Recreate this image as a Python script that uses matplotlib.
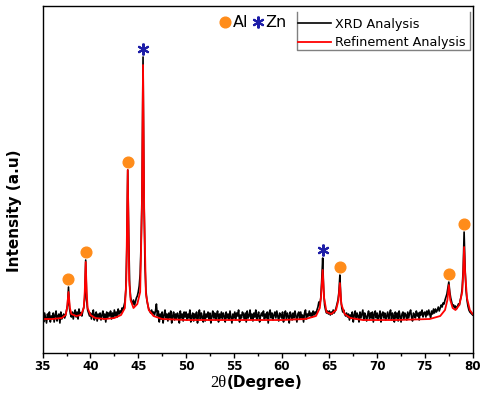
import numpy as np
import matplotlib
matplotlib.use("Agg")
import matplotlib.pyplot as plt
from matplotlib.lines import Line2D

# measured XRD scan, 35-80 deg in 0.1 deg steps (one row per degree)
two_theta = np.round(np.linspace(35, 80, 451), 1)
xrd_intensity = np.array([
    44, 38, 47, 42, 37, 46, 41, 48, 38, 44,       # 35
    42, 47, 38, 45, 49, 39, 44, 46, 37, 48,       # 36
    41, 44, 46, 42, 45, 50, 55, 73, 52, 46,       # 37
    43, 48, 41, 47, 50, 43, 48, 41, 51, 45,       # 38
    47, 44, 49, 53, 62, 100, 60, 50, 47, 44,      # 39
    47, 41, 46, 50, 40, 45, 48, 39, 46, 42,       # 40
    47, 40, 45, 49, 41, 46, 38, 48, 42, 47,       # 41
    44, 49, 41, 47, 42, 50, 44, 48, 43, 51,       # 42
    46, 49, 47, 52, 50, 54, 58, 70, 110, 190,     # 43
    125, 75, 63, 58, 56, 60, 55, 58, 62, 64,      # 44
    68, 74, 86, 118, 170, 303, 165, 95, 70, 60,   # 45
    55, 51, 49, 47, 50, 46, 48, 45, 49, 56,       # 46
    44, 49, 38, 46, 41, 48, 37, 45, 50, 42,       # 47
    46, 39, 47, 42, 49, 37, 44, 48, 40, 46,       # 48
    41, 47, 44, 37, 49, 42, 46, 39, 48, 43,       # 49
    48, 40, 46, 42, 50, 38, 44, 47, 39, 46,       # 50
    42, 48, 37, 45, 50, 41, 47, 43, 38, 49,       # 51
    39, 46, 43, 48, 40, 47, 37, 44, 49, 42,       # 52
    47, 40, 45, 49, 38, 46, 42, 48, 41, 47,       # 53
    44, 38, 48, 42, 46, 40, 49, 43, 37, 46,       # 54
    42, 48, 40, 47, 44, 50, 38, 45, 42, 48,       # 55
    46, 40, 47, 38, 49, 42, 44, 50, 41, 46,       # 56
    39, 47, 43, 50, 40, 45, 48, 38, 44, 47,       # 57
    44, 49, 41, 46, 42, 48, 37, 47, 50, 42,       # 58
    47, 40, 45, 48, 42, 49, 44, 39, 47, 45,       # 59
    42, 48, 38, 45, 49, 41, 47, 44, 37, 48,       # 60
    45, 40, 47, 42, 49, 44, 38, 46, 48, 41,       # 61
    48, 42, 45, 38, 47, 50, 41, 46, 44, 49,       # 62
    44, 47, 43, 49, 45, 48, 46, 50, 53, 58,       # 63
    55, 62, 80, 102, 70, 55, 50, 47, 49, 46,      # 64
    49, 45, 48, 46, 50, 47, 49, 52, 56, 60,       # 65
    68, 85, 62, 52, 48, 50, 46, 44, 47, 43,       # 66
    46, 40, 45, 43, 48, 38, 45, 49, 41, 47,       # 67
    44, 38, 48, 42, 46, 50, 40, 47, 44, 39,       # 68
    45, 49, 41, 47, 42, 48, 38, 46, 49, 42,       # 69
    47, 40, 44, 49, 38, 46, 48, 42, 47, 40,       # 70
    44, 48, 41, 46, 50, 40, 47, 44, 38, 48,       # 71
    42, 47, 39, 49, 44, 38, 46, 48, 41, 47,       # 72
    45, 40, 48, 42, 47, 50, 43, 39, 47, 45,       # 73
    42, 49, 44, 47, 40, 48, 45, 50, 43, 47,       # 74
    48, 43, 49, 45, 50, 46, 42, 49, 46, 51,       # 75
    47, 51, 48, 50, 53, 49, 52, 55, 53, 57,       # 76
    56, 60, 63, 66, 72, 78, 68, 62, 58, 54,       # 77
    55, 52, 54, 51, 53, 56, 55, 60, 64, 72,       # 78
    90, 128, 92, 70, 60, 54, 50, 48, 47, 46,      # 79
    45,                                           # 80
])

# refinement (fitted) profile
fit_2theta = [35, 36, 37, 37.4, 37.55, 37.7, 37.85, 38.0, 38.5, 39.0, 39.3, 39.4,
              39.5, 39.6, 39.7, 40.0, 40.5, 41.5, 42.5, 43.2, 43.6, 43.75, 43.9,
              44.05, 44.2, 44.5, 44.9, 45.2, 45.38, 45.5, 45.62, 45.8, 46.1, 46.6,
              47.5, 50, 55, 60, 62.5, 63.6, 64.0, 64.15, 64.3, 64.45, 64.7, 65.2,
              65.7, 65.95, 66.1, 66.25, 66.6, 67.2, 68.5, 72, 75.5, 76.6, 77.1,
              77.35, 77.5, 77.65, 77.9, 78.2, 78.6, 78.9, 79.0, 79.1, 79.2, 79.4,
              79.7, 80]
fit_intensity = [41, 41, 42, 45, 52, 68, 52, 46, 44, 45, 52, 68,
                 98, 68, 52, 45, 42, 41, 42, 45, 52, 80, 190,
                 80, 60, 52, 56, 68, 150, 295, 150, 66, 50, 44,
                 41, 40, 40, 40, 41, 44, 52, 66, 90, 62, 48, 46,
                 50, 60, 77, 56, 46, 42, 40, 40, 41, 44, 50,
                 60, 75, 60, 52, 50, 55, 68, 85, 113, 88, 62,
                 50, 46]

# phase identification
al_peaks = [37.7, 39.5, 43.9, 66.1, 77.5, 79.1]
zn_peaks = [45.5, 64.3]
marker_gap = 8

orange = "#FF8C1A"
blue = "#1E1EA8"


def peak_height(pos):
    return xrd_intensity[np.argmin(np.abs(two_theta - pos))]


fig = plt.figure(figsize=(4.83, 4.12), dpi=100)
ax = fig.add_axes([0.0884, 0.1439, 0.8903, 0.8415])

ax.plot(two_theta, xrd_intensity, color="black", lw=1.2, label="XRD Analysis")
ax.plot(fit_2theta, fit_intensity, color="red", lw=1.3, label="Refinement Analysis")

ax.plot(al_peaks, [peak_height(p) + marker_gap for p in al_peaks], "o",
        color=orange, ms=7.7, mec=orange)
ax.plot(zn_peaks, [peak_height(p) + marker_gap for p in zn_peaks],
        marker=(6, 2, 0), ls="none", color=blue, ms=8.5, mew=1.5)

ax.set_xlim(35, 80)
ax.set_ylim(7.3, 354)
ax.set_xticks(np.arange(35, 81, 5))
ax.set_xticks(np.arange(37.5, 80, 5), minor=True)
ax.set_yticks([])
ax.tick_params(axis="x", which="major", direction="out", length=3.5, width=1,
               pad=2, labelsize=8.6)
ax.tick_params(axis="x", which="minor", direction="out", length=2, width=1)
for lab in ax.get_xticklabels():
    lab.set_fontweight("bold")
for sp in ax.spines.values():
    sp.set_linewidth(1.0)

ax.set_ylabel("Intensity (a.u)", fontsize=11, fontweight="bold")
ax.yaxis.set_label_coords(-0.049, 0.41)

fig.text(226.7 / 483, 1 - 386.7 / 412, "2θ", family="Liberation Serif",
         fontsize=12, ha="right", va="baseline")
fig.text(226.7 / 483, 1 - 386.7 / 412, "(Degree)", fontsize=11,
         fontweight="bold", ha="left", va="baseline")

# line legend: frameless text, box edges drawn as an open bracket
line_leg = ax.legend(loc="upper left", bbox_to_anchor=(0.5937, 0.966),
                     frameon=False, fontsize=9.2, handlelength=2.6,
                     handletextpad=0.33, labelspacing=0.42, borderpad=0,
                     borderaxespad=0)
ax.add_artist(line_leg)
ax.add_line(Line2D([0.5914, 0.5914, 0.9935, 0.9935], [0.9827, 0.873, 0.873, 0.9827],
                   transform=ax.transAxes, color="#808080", lw=1.0, clip_on=False))

phase_handles = [
    Line2D([], [], ls="none", marker="o", color=orange, ms=7.7),
    Line2D([], [], ls="none", marker=(6, 2, 0), color=blue, ms=8.5, mew=1.5),
]
ax.legend(phase_handles, ["Al", "Zn"], loc="center right",
          bbox_to_anchor=((286 - 42.7) / 430, (352.7 - 22.7) / 346.7),
          ncol=2, frameon=False, fontsize=11.5, handlelength=0.6,
          handletextpad=0.15, columnspacing=0.3, borderpad=0, borderaxespad=0)

fig.savefig("out.png", dpi=100)
